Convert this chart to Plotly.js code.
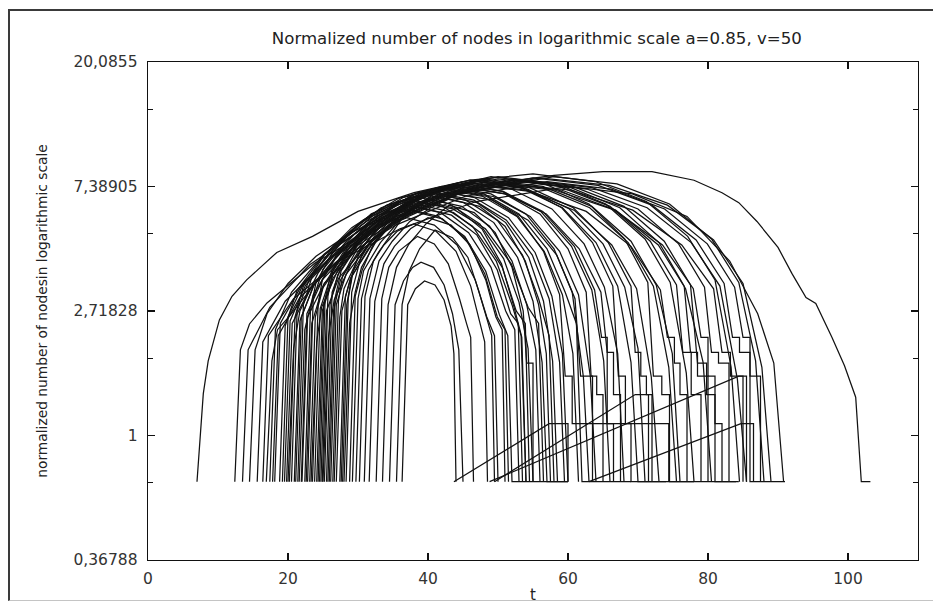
<!DOCTYPE html>
<html>
<head>
<meta charset="utf-8">
<script src="https://cdn.plot.ly/plotly-3.0.1.min.js"></script>
<style>
  html, body { margin: 0; padding: 0; background: #fff; }
  #wrap { position: relative; width: 933px; height: 604px; overflow: hidden; }
  #chart { position: absolute; left: 0; top: 0; width: 933px; height: 604px; }
  #frame { position: absolute; left: 8px; top: 9px; width: 925px; height: 592px; box-sizing: border-box;
           border-left: 2px solid #3a3a3a; border-top: 2px solid #3a3a3a; border-bottom: 1px solid #c4c4c4;
           pointer-events: none; }
</style>
</head>
<body>
<div id="wrap"><div id="chart"></div><div id="frame"></div></div>
<script>
// Each run: flat list of (t, value) pairs.
const earlyRuns = [
  [7.0,0.69, 7.9,1.40, 8.6,1.82, 10.2,2.53, 12,3.06, 14.1,3.49, 18.4,4.35, 23.5,4.95, 30,6.05, 38,7.03, 46,7.77, 55,8.17, 63.9,7.69, 71.2,6.55, 77.1,4.95, 81,3.49, 83.3,1.73, 84.5,0.69],
  [12.4,0.69, 13.2,1.99, 14.5,2.45, 17,2.90, 23.8,3.99, 32.9,5.42, 44.3,6.96, 58,8.00, 67,7.54, 74.5,6.42, 80.5,4.85, 84.4,3.42, 86.8,1.82, 88,0.69],
  [13.5,0.69, 14.3,1.99, 17.4,2.80, 23.1,3.94, 30.8,5.31, 40.5,6.75, 52,7.77, 60.4,7.32, 67.4,6.23, 73,4.71, 76.6,3.32, 77.5,1.95, 78.5,1.95, 78.5,1.61, 80,1.61, 80,0.69],
  [15.6,0.69, 16.4,2.12, 19.6,2.94, 25.7,4.10, 33.8,5.47, 43.9,6.96, 56,7.92, 65.9,7.46, 74.2,6.36, 80.8,4.81, 85,3.39, 87.7,1.73, 89,0.69],
  [16.4,0.69, 17.2,2.23, 20.8,3.00, 27.3,4.06, 36,5.26, 46.9,6.55, 60,7.39, 69.2,6.96, 77,5.81, 83.1,4.06, 87.1,2.66, 89.4,1.79, 90.8,0.69],
  [16.9,0.69, 17.7,1.82, 18.5,2.34, 20.2,2.61, 25.2,3.72, 31.8,5.10, 40.1,6.60, 50,7.61, 60.5,7.17, 69.25,6.11, 76.25,4.62, 80.8,3.25, 82,1.95, 83.2,1.95, 83.2,1.61, 85,1.61, 85,0.69],
  [17.4,0.69, 18.2,2.34, 20.5,3.16, 25.1,4.28, 31.2,5.58, 38.8,6.96, 48,7.85, 56.4,7.39, 63.4,6.30, 69,4.76, 72.6,3.35, 74.9,1.93, 76,0.69],
  [17.8,0.69, 18.6,2.23, 21.7,3.03, 27.6,4.14, 35.4,5.42, 45.2,6.82, 57,7.69, 66.15,7.24, 73.8,6.17, 79.9,4.66, 83.8,3.29, 85,2.20, 86,2.20, 86,1.61, 87.5,1.61, 87.5,0.69],
  [18.1,0.69, 18.9,2.46, 21.8,3.29, 27.3,4.42, 34.7,5.70, 43.9,7.03, 55,7.92, 64.3,7.46, 72,6.36, 78.3,4.81, 82.3,3.39, 83.5,2.20, 84.5,2.20, 84.5,1.95, 86,1.95, 86,0.69, 91,0.69],
  [18.8,0.69, 19.6,2.41, 21.3,3.21, 25.1,4.26, 30.1,5.47, 36.4,6.75, 44,7.54, 50.6,7.10, 56.1,6.05, 60.5,4.57, 63.4,3.22, 65.1,1.82, 66,0.69],
  [19.2,0.69, 20,2.59, 22.3,3.42, 26.9,4.55, 33.1,5.81, 40.8,7.17, 50,8.00, 58.4,7.54, 65.4,6.42, 71,4.85, 74.6,3.42, 76.9,1.65, 78,0.69],
  [19.5,0.69, 20.3,2.51, 22.5,3.34, 27.1,4.44, 33.2,5.70, 40.9,7.03, 50,7.85, 58.7,7.39, 66,6.30, 71.75,4.76, 75.5,3.35, 76.4,1.95, 77.6,1.95, 77.6,1.39, 79,1.39, 79,0.69],
  [19.8,0.69, 20.6,2.46, 23.2,3.27, 28.4,4.35, 35.2,5.58, 43.7,6.89, 54,7.69, 62.7,7.24, 70,6.17, 75.8,4.66, 79.5,3.29, 80.5,1.95, 81.5,1.95, 81.5,1.79, 83,1.79, 83,0.69]
];

const bigArcRun = [14.5,0.69, 15.3,1.99, 17,2.66, 20,3.39, 24,4.22, 29,5.10, 35,5.99, 42,6.89, 50,7.61, 58,8.08, 65,8.33, 72,8.33, 78,7.77, 82,7.03, 84.4,6.49, 87,5.58, 90,4.53, 92,3.67, 94,3.03, 95.4,2.89, 97.7,2.20, 99.5,1.75, 101.1,1.36, 101.9,0.69, 103.2,0.69];

const middleRuns = [
  [20.0,0.69, 20.8,2.01, 21.7,2.72, 24.25,3.67, 27.65,4.78, 31.9,5.93, 37,6.69, 42.1,6.30, 46.35,5.37, 49.75,4.06, 52,2.86, 53.3,2.23, 54,0.69],
  [20.2,0.69, 21,2.59, 22.2,3.32, 25.2,4.26, 29.1,5.31, 34.1,6.36, 40,7.03, 45.4,6.62, 49.9,5.64, 53.5,4.26, 55.8,3.00, 57.3,2.23, 58,0.69],
  [20.5,0.69, 21.3,2.72, 23.1,3.53, 26.9,4.60, 32,5.81, 38.4,6.99, 46,7.77, 53.2,7.32, 59.2,6.23, 64,4.71, 67.1,3.32, 69,1.80, 70,0.69, 74,0.69],
  [20.9,0.69, 21.7,2.51, 23.7,3.35, 27.9,4.48, 33.5,5.78, 40.6,7.13, 49,8.00, 56.7,7.54, 63,6.42, 68.1,4.85, 71.4,3.42, 72.2,1.61, 73.4,1.61, 73.4,1.39, 74.5,1.39, 74.5,0.69, 84.4,0.69],
  [21.1,0.69, 21.9,2.59, 23.8,3.40, 27.8,4.48, 33.2,5.70, 39.9,6.96, 48,7.77, 56.25,7.32, 63.1,6.23, 68.6,4.71, 72.2,3.32, 74.4,1.73, 75.5,0.69],
  [21.4,0.69, 22.2,2.86, 23.5,3.63, 26.6,4.60, 30.7,5.64, 35.8,6.72, 42,7.39, 48,6.96, 53,5.93, 57,4.48, 59.6,3.16, 61.2,2.46, 62,0.69, 69,0.69],
  [21.6,0.69, 22.4,2.34, 23.6,3.10, 26.7,4.12, 30.8,5.26, 35.9,6.49, 42,7.24, 47.85,6.82, 52.7,5.81, 56.6,4.39, 59.2,3.10, 60.7,1.93, 61.5,0.69],
  [21.9,0.69, 22.7,2.66, 24.9,3.49, 29.4,4.57, 35.4,5.80, 43,7.03, 52,7.85, 60.7,7.39, 68,6.30, 73.75,4.76, 77.5,3.35, 78.5,1.79, 79.8,1.79, 79.8,1.39, 81,1.39, 81,0.69, 84,0.69],
  [22.0,0.69, 22.8,2.59, 25.2,3.40, 30,4.48, 36.4,5.70, 44.4,6.96, 54,7.77, 63.45,7.32, 71.3,6.23, 77.6,4.71, 81.7,3.32, 84.2,1.57, 85.5,0.69],
  [22.4,0.69, 23.2,2.72, 24,3.42, 26.3,4.31, 29.4,5.26, 33.3,6.23, 38,6.82, 43.1,6.42, 47.4,5.47, 50.8,4.14, 53,2.92, 54.3,2.01, 55,0.69],
  [22.6,0.69, 23.4,2.46, 24.9,3.25, 28.45,4.33, 33.1,5.53, 39,6.80, 46,7.61, 54.1,7.17, 60.85,6.11, 66.25,4.62, 69.8,3.25, 71.9,1.60, 73,0.69],
  [22.8,0.69, 23.6,3.00, 25,3.80, 28.4,4.78, 32.8,5.91, 38.3,7.00, 45,7.69, 51.9,7.24, 57.7,6.17, 62.3,4.66, 65.2,3.29, 67.1,1.93, 68,0.69],
  [23.1,0.69, 23.9,2.59, 25.1,3.35, 28.1,4.33, 32.1,5.42, 37,6.53, 43,7.24, 49.3,6.82, 54.6,5.81, 58.8,4.39, 61.5,3.10, 63.2,1.60, 64,0.69],
  [23.3,0.69, 24.1,2.12, 24.8,2.80, 27,3.72, 29.9,4.76, 33.6,5.87, 38,6.55, 43.55,6.17, 48.2,5.26, 51.9,3.97, 54.3,2.80, 55.8,2.46, 56.5,0.69],
  [23.5,0.69, 24.3,2.86, 24.9,3.49, 26.9,4.26, 29.6,5.08, 33,5.87, 37,6.36, 41.8,5.99, 45.8,5.10, 49,3.86, 51.1,2.72, 52.4,2.34, 53,0.69],
  [23.8,0.69, 24.6,2.77, 26.1,3.58, 29.6,4.62, 34.2,5.78, 40,6.96, 47,7.69, 54.2,7.24, 60.2,6.17, 65,4.66, 68.1,3.29, 70,2.01, 71,0.69],
  [24.1,0.69, 24.9,2.72, 26.4,3.53, 29.8,4.60, 34.4,5.79, 40.1,6.99, 47,7.77, 54.5,7.32, 60.75,6.23, 65.75,4.71, 69,3.32, 69.6,1.95, 70.4,1.95, 70.4,1.61, 71.2,1.61, 71.2,1.39, 72,1.39, 72,0.69],
  [24.3,0.69, 25.1,2.86, 26.4,3.63, 29.5,4.64, 33.6,5.75, 38.8,6.82, 45,7.54, 54.6,7.10, 62.6,6.05, 69,4.57, 73.2,3.22, 74.2,2.20, 75.2,2.20, 75.2,1.79, 76,1.79, 76,1.39, 77,1.39, 77,0.69],
  [24.5,0.69, 25.3,3.00, 26.2,3.74, 28.6,4.64, 31.9,5.62, 36.1,6.57, 41,7.17, 46.7,6.75, 51.5,5.75, 55.3,4.35, 57.7,3.06, 59.2,1.93, 60,0.69],
  [24.7,0.69, 25.5,2.72, 27.2,3.53, 31,4.55, 36.1,5.70, 42.4,6.89, 50,7.61, 59.15,7.17, 66.8,6.11, 72.9,4.62, 76.8,3.25, 79.3,1.80, 80.5,0.69],
  [24.9,0.69, 25.7,3.06, 26.4,3.74, 28.7,4.60, 31.7,5.47, 35.5,6.36, 40,6.89, 45.1,6.49, 49.4,5.53, 52.8,4.18, 55,2.94, 56.3,1.80, 57,0.69, 60,0.69],
  [25.0,0.69, 25.8,2.23, 26.6,2.97, 29,3.96, 32.2,5.10, 36.2,6.27, 41,7.03, 46.55,6.62, 51.2,5.64, 54.9,4.26, 57.3,3.00, 58.8,1.80, 59.5,0.69],
  [25.2,0.69, 26,2.86, 27.1,3.63, 29.9,4.64, 33.7,5.75, 38.4,6.82, 44,7.54, 50.75,7.10, 56.4,6.05, 60.9,4.57, 63.8,3.22, 64.8,2.20, 65.6,2.20, 65.6,1.10, 66.5,1.10, 66.5,0.69],
  [25.5,0.69, 26.3,3.16, 28.4,4.42, 30.7,5.10, 33.5,5.75, 37,6.17, 41.5,5.81, 45.25,4.95, 48.25,3.74, 50.2,2.64, 51.4,2.23, 52,0.69, 60,0.69],
  [25.7,0.69, 26.5,2.72, 27.5,3.49, 30.3,4.48, 33.9,5.58, 38.5,6.69, 44,7.39, 51,6.96, 56.9,5.93, 61.6,4.48, 64.7,3.16, 65.6,1.95, 66.5,1.95, 66.5,1.39, 67.5,1.39, 67.5,0.69]
];

const lateRuns = [
  [25.9,0.69, 26.7,3.00, 27.6,3.76, 30.2,4.71, 33.6,5.75, 37.9,6.75, 43,7.39, 49,6.96, 54,5.93, 58,4.48, 60.6,3.16, 62.2,1.60, 63,0.69],
  [26.1,0.69, 26.9,2.86, 28.3,3.65, 31.6,4.66, 36,5.79, 41.4,6.89, 48,7.61, 58.2,7.17, 66.7,6.11, 73.5,4.62, 77.9,3.25, 79,2.20, 80,2.20, 80,1.61, 81,1.61, 81,1.10, 82,1.10, 82,0.69],
  [26.4,0.69, 27.2,2.94, 27.8,3.61, 29.8,4.44, 32.5,5.31, 35.9,6.16, 40,6.69, 44.8,6.30, 48.8,5.37, 52,4.06, 54.1,2.86, 55.4,1.99, 56,0.69],
  [26.6,0.69, 27.4,2.59, 28,3.25, 29.95,4.12, 32.6,5.05, 36,5.99, 40,6.55, 44.2,6.17, 47.7,5.26, 50.5,3.97, 52.3,2.80, 53.4,2.20, 54,0.69],
  [26.9,0.69, 27.7,2.72, 28.9,3.53, 31.9,4.60, 35.9,5.79, 41,6.99, 47,7.77, 53.6,7.32, 59.1,6.23, 63.5,4.71, 66.4,3.32, 67.2,1.61, 68.2,1.61, 68.2,1.10, 69,1.10, 69,0.69, 78,0.69],
  [27.4,0.69, 28.2,3.06, 29.2,3.67, 30.3,4.42, 32.6,5.19, 35.5,5.91, 39,6.36, 43.65,5.99, 47.5,5.10, 50.6,3.86, 52.6,2.72, 53.9,2.46, 54.5,0.69],
  [27.6,0.69, 28.4,2.86, 29.1,3.58, 31.45,4.48, 34.5,5.47, 38.4,6.42, 43,7.03, 49.15,6.62, 54.3,5.64, 58.4,4.26, 61,3.00, 61.8,1.61, 63.5,1.61, 63.5,0.69],
  [27.8,0.69, 28.6,3.00, 29.3,3.74, 31.6,4.66, 34.6,5.66, 38.4,6.62, 43,7.24, 48.4,6.82, 52.9,5.81, 56.5,4.39, 58.8,3.10, 59.6,1.61, 60.6,1.61, 60.6,1.10, 74.4,1.10, 74.4,0.69],
  [28.0,0.69, 28.8,2.46, 29.6,3.16, 30.5,3.86, 32.5,4.71, 35,5.53, 38,6.05, 42.05,5.70, 45.4,4.85, 48.1,3.67, 49.9,2.59, 51,2.34, 51.5,0.69],
  [28.3,0.69, 29.1,3.16, 30.5,4.26, 32.2,4.85, 34.4,5.42, 37,5.75, 40.9,5.42, 44.15,4.62, 46.75,3.49, 48.4,2.59, 49.5,2.23, 50,0.69],
  [28.8,0.69, 29.6,3.06, 30.6,3.78, 32.1,4.60, 34.7,5.47, 38,6.36, 42,6.89, 47,6.49, 51.1,5.53, 54.4,4.18, 56.5,2.94, 57.8,1.82, 58.5,0.69],
  [29.2,0.69, 30,3.00, 30.8,3.76, 33.2,4.71, 36.3,5.75, 40.2,6.75, 45,7.39, 51,6.96, 56,5.93, 60,4.48, 62.6,3.16, 63.3,1.61, 64.1,1.61, 64.1,1.39, 65,1.39, 65,0.69],
  [29.7,0.69, 30.5,3.00, 31.5,3.78, 32.9,4.35, 34.9,5.10, 36.5,5.81, 39,6.23, 43.35,5.87, 47,5.00, 49.9,3.78, 51.8,2.66, 52.9,2.46, 53.5,0.69],
  [30.2,0.69, 31,3.06, 32.2,4.06, 33.7,4.62, 35.6,5.16, 38,5.47, 41.15,5.16, 44,4.39, 46.1,3.32, 47.4,2.46, 48.1,2.12, 48.5,0.69],
  [30.9,0.69, 31.7,3.00, 33,4.06, 34.9,4.76, 37.4,5.58, 40.4,6.23, 43,6.69, 47.35,6.30, 51,5.37, 53.9,4.06, 55.8,2.86, 56.9,1.93, 57.5,0.69],
  [31.6,0.69, 32.4,2.94, 33.7,3.97, 35.2,4.57, 37.5,5.26, 40,5.75, 43.3,5.42, 46,4.62, 48.25,3.49, 49.7,2.59, 50.6,2.34, 51,0.69],
  [32.6,0.69, 33.4,3.00, 34.4,3.86, 35.8,4.39, 38.5,4.95, 40.9,4.66, 42.9,3.97, 44.5,3.00, 45.5,2.46, 46.1,2.20, 46.5,0.69],
  [33.5,0.69, 34.3,2.86, 35.5,3.86, 37.2,4.62, 39.7,5.47, 43,6.36, 46.6,5.99, 49.6,5.10, 52,3.86, 53.6,2.72, 54.1,1.79, 55,1.79, 55,0.69],
  [34.5,0.69, 35.3,2.86, 36.5,3.46, 37.8,3.86, 39,4.02, 40.8,3.86, 42.3,3.35, 43.5,2.66, 44.4,1.99, 45,0.69],
  [35.5,0.69, 36.3,2.86, 37.3,3.74, 38.8,4.48, 41,5.21, 43.5,4.90, 45.7,4.18, 47.3,3.16, 48.5,2.51, 49.1,2.23, 49.5,0.69],
  [36.3,0.69, 37.1,2.86, 38.2,3.25, 39.5,3.46, 41,3.35, 42.3,2.97, 43.3,2.41, 43.7,1.93, 44,0.69]
];

const diagonalRuns = [
  [43.7,0.69, 57.3,1.10, 60,1.10, 60,0.69],
  [48.8,0.69, 84.4,1.61, 85.5,1.61, 85.5,0.69],
  [49.5,0.69, 69.6,1.39, 71.5,1.39, 71.5,0.69],
  [63,0.69, 84.7,1.10, 86.5,1.10, 86.5,0.69]
];

const xTickVals = [0, 20, 40, 60, 80, 100];
const xRange = [0, 110];
const yTickVals = [0.36788, 1, 2.71828, 7.38905, 20.0855];
const yTickText = ['0,36788', '1', '2,71828', '7,38905', '20,0855'];
const yMinorVals = [0.68394, 1.85914, 5.05367, 13.73728];

const chartTitle = 'Normalized number of nodes in logarithmic scale a=0.85, v=50';
const xTitle = 't';
const yTitle = 'normalized number of nodesin logarithmic scale';

const FONT = 'DejaVu Sans, Verdana, sans-serif';
const allRuns = [].concat(earlyRuns, [bigArcRun], middleRuns, lateRuns, diagonalRuns);
const traces = allRuns.map(run => ({
  type: 'scatter', mode: 'lines',
  x: run.filter((v, i) => i % 2 === 0),
  y: run.filter((v, i) => i % 2 === 1),
  line: { color: '#121212', width: 1.25 },
  hoverinfo: 'skip', showlegend: false
}));

const axisCommon = {
  showline: true, linecolor: '#111', linewidth: 1.4, mirror: 'ticks',
  ticks: 'inside', ticklen: 7, tickwidth: 1.2, tickcolor: '#111',
  showgrid: false, zeroline: false,
  tickfont: { family: FONT, size: 15.5, color: '#333' }
};

const layout = {
  width: 933, height: 604,
  margin: { l: 148, r: 15, t: 62, b: 44 },
  paper_bgcolor: '#fff', plot_bgcolor: '#fff',
  showlegend: false,
  title: { text: chartTitle, font: { family: FONT, size: 16.6, color: '#222' },
           x: 0.505, xref: 'paper', xanchor: 'center', y: 1 - 38 / 604, yref: 'container', yanchor: 'middle' },
  xaxis: Object.assign({}, axisCommon, {
    range: xRange, tickmode: 'array', tickvals: xTickVals,
    ticklabelstandoff: 4,
    title: { text: xTitle, font: { family: FONT, size: 15, color: '#222' }, standoff: 6 }
  }),
  yaxis: Object.assign({}, axisCommon, {
    type: 'log',
    range: [Math.log10(yTickVals[0]), Math.log10(yTickVals[yTickVals.length - 1])],
    tickmode: 'array', tickvals: yTickVals, ticktext: yTickText,
    ticklabelstandoff: 6,
    minor: { tickmode: 'array', tickvals: yMinorVals, ticks: 'inside', ticklen: 5, tickcolor: '#111', tickwidth: 1, showgrid: false },
    title: { text: yTitle, font: { family: FONT, size: 13.8, color: '#222' }, standoff: 22 }
  })
};

Plotly.newPlot('chart', traces, layout, { staticPlot: true, displayModeBar: false });
</script>
</body>
</html>
